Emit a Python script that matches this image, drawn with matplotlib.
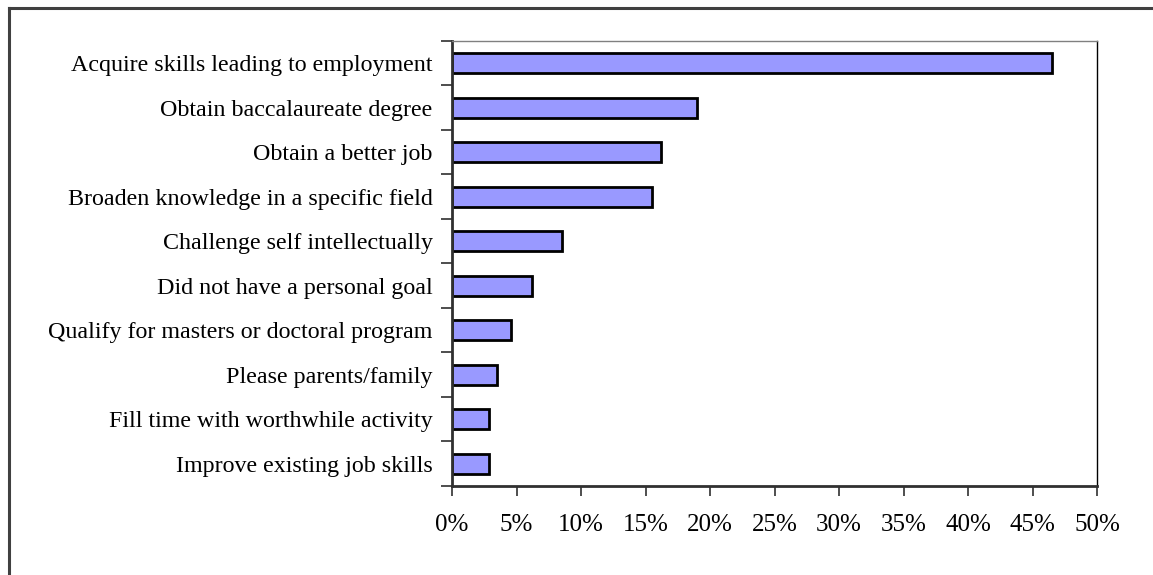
import matplotlib.pyplot as plt
from matplotlib.lines import Line2D
from matplotlib.ticker import FuncFormatter, MultipleLocator

# survey answers, top to bottom as shown
goals = [
    "Acquire skills leading to employment",
    "Obtain baccalaureate degree",
    "Obtain a better job",
    "Broaden knowledge in a specific field",
    "Challenge self intellectually",
    "Did not have a personal goal",
    "Qualify for masters or doctoral program",
    "Please parents/family",
    "Fill time with worthwhile activity",
    "Improve existing job skills",
]
share = [46.5, 19.0, 16.2, 15.5, 8.5, 6.2, 4.6, 3.5, 2.85, 2.85]

plt.rcParams['font.family'] = ['Liberation Serif', 'DejaVu Serif']

fig = plt.figure(figsize=(11.53, 5.75), dpi=100)
ax = fig.add_axes([452 / 1153, 89 / 575, 645 / 1153, 445 / 575])

ypos = list(range(len(goals)))
ax.barh(ypos, share, height=0.44, color='#9999ff', edgecolor='black', linewidth=2.0)

ax.set_xlim(0, 50)
ax.set_ylim(len(goals) - 0.5, -0.5)
ax.xaxis.set_major_locator(MultipleLocator(5))
ax.xaxis.set_major_formatter(FuncFormatter(lambda v, p: '%d%%' % v))

# category ticks sit between the bars
ax.set_yticks([i - 0.5 for i in range(len(goals) + 1)])
ax.set_yticklabels([])
ax.set_yticks(ypos, minor=True)
ax.set_yticklabels(goals, minor=True, fontsize=17.3)
ax.tick_params(axis='y', which='minor', length=0, pad=14)
ax.tick_params(axis='y', which='major', length=8, width=1.2, color='#303030')
ax.tick_params(axis='x', length=7, width=1.2, color='#303030', labelsize=18, pad=13)

for side in ['left', 'bottom']:
    ax.spines[side].set_linewidth(2.0)
    ax.spines[side].set_color('#303030')
ax.spines['top'].set_color('#808080')
ax.spines['top'].set_linewidth(1.0)
ax.spines['right'].set_color('black')
ax.spines['right'].set_linewidth(1.0)

# outer chart frame, only left and top edges fall inside the image
fig.add_artist(Line2D([9 / 1153, 9 / 1153], [0, 1 - 7.5 / 575], color='#404040', linewidth=2.2))
fig.add_artist(Line2D([9 / 1153, 1], [1 - 7.5 / 575, 1 - 7.5 / 575], color='#404040', linewidth=2.2))

fig.savefig('out.png', dpi=100)
